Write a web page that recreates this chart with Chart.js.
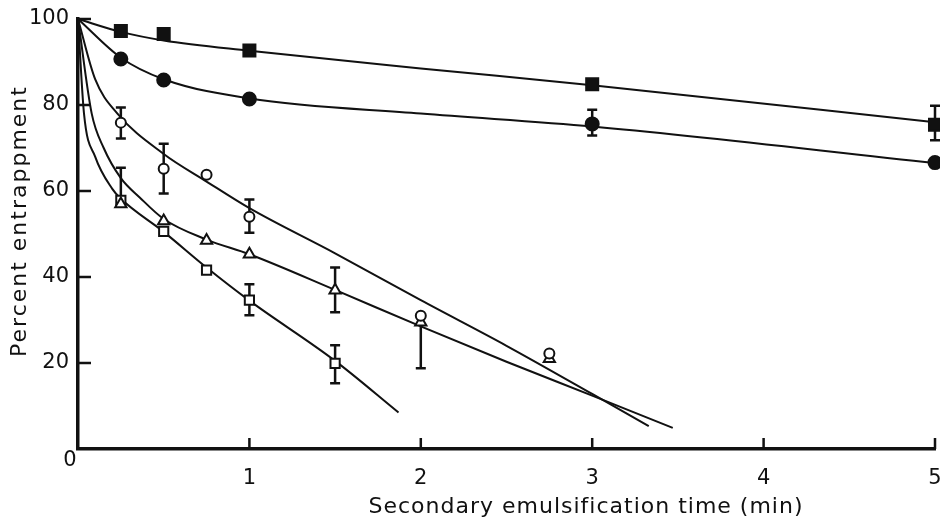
<!DOCTYPE html>
<html>
<head>
<meta charset="utf-8">
<script src="https://cdn.jsdelivr.net/npm/chart.js@4.4.0/dist/chart.umd.min.js"></script>
<style>
  html, body { margin: 0; padding: 0; background: #fff; }
  #wrap { width: 940px; height: 523px; }
</style>
</head>
<body>
<div id="wrap"><canvas id="chart"></canvas></div>
<script>
// AXES
const xTicks = [0, 1, 2, 3, 4, 5];
const yTicks = [0, 20, 40, 60, 80, 100];
const xTitle = "Secondary emulsification time (min)";
const yTitle = "Percent entrappment";

// FILLED SQUARES
const fsqX = [0.25, 0.5, 1, 3, 5];
const fsqY = [97.2, 96.5, 92.7, 84.8, 75.4];
const fsqLo = [0, 0, 0, 0, 3.6];
const fsqHi = [0, 0, 0, 0, 4.4];
const fsqFitX = [0, 0.25, 0.5, 1, 2, 3, 5];
const fsqFitY = [100, 97, 95, 92.6, 88.5, 84.6, 76];

// FILLED CIRCLES
const fciX = [0.25, 0.5, 1, 3, 5];
const fciY = [90.7, 85.8, 81.4, 75.6, 66.6];
const fciLo = [0, 0, 0, 2.7, 0];
const fciHi = [0, 0, 0, 3.3, 0];
const fciFitX = [0, 0.25, 0.5, 1, 2, 3, 5];
const fciFitY = [100, 91, 86, 81.5, 78, 75, 66.5];

// OPEN CIRCLES
const ociX = [0.25, 0.5, 0.75, 1, 2, 2.75];
const ociY = [75.9, 65.2, 63.8, 54, 31, 22.2];
const ociLo = [3.7, 5.8, 0, 3.7, 0, 0];
const ociHi = [3.5, 5.8, 0, 4, 0, 0];
const ociFitX = [0, 0.1, 0.23, 0.5, 0.75, 1, 1.5, 2, 2.5, 3, 3.33];
const ociFitY = [100, 86, 78, 68.6, 62.2, 56, 45.5, 34.6, 24, 12.8, 5.3];

// OPEN TRIANGLES
const otrX = [0.25, 0.5, 0.75, 1, 1.5, 2, 2.75];
const otrY = [57, 53, 48.5, 45.3, 36.9, 29.5, 21];
const otrLo = [0, 0, 0, 0, 5.1, 10.7, 0];
const otrHi = [8.4, 0, 0, 0, 5.3, 0, 0];
const otrFitX = [0, 0.08, 0.15, 0.25, 0.36, 0.5, 0.75, 1, 1.5, 2, 2.5, 3, 3.47];
const otrFitY = [100, 78, 70, 63, 58.5, 53.5, 48.7, 45.3, 37, 28.5, 20.3, 12.4, 4.9];

// OPEN SQUARES
const osqX = [0.25, 0.5, 0.75, 1, 1.5];
const osqY = [57.8, 50.6, 41.6, 34.6, 19.9];
const osqLo = [0, 0, 0, 3.5, 4.6];
const osqHi = [0, 0, 0, 3.7, 4.2];
const osqFitX = [0, 0.035, 0.1, 0.2, 0.25, 0.5, 0.75, 1, 1.5, 1.87];
const osqFitY = [100, 78, 68, 60.5, 58.2, 50.5, 42.2, 34.5, 20.5, 8.5];

const INK = "#111";
const FONT = "'DejaVu Sans', sans-serif";

function pts(xs, ys) {
  return xs.map((x, i) => ({ x: x, y: ys[i] }));
}

function fitLine(xs, ys) {
  return {
    type: "line",
    data: pts(xs, ys),
    borderColor: INK,
    borderWidth: 2,
    pointRadius: 0,
    cubicInterpolationMode: "monotone",
    fill: false,
    clip: false,
    order: 10,
  };
}

function markers(xs, ys, lo, hi, style, filled, radius) {
  return {
    type: "scatter",
    data: pts(xs, ys),
    errLo: lo,
    errHi: hi,
    showLine: false,
    pointStyle: style,
    pointRadius: radius,
    pointBackgroundColor: filled ? INK : "#fff",
    pointBorderColor: INK,
    pointBorderWidth: 2,
    clip: false,
    order: 1,
  };
}

// error bars go under the markers
const errorBars = {
  id: "errorBars",
  beforeDatasetsDraw(chart) {
    const ctx = chart.ctx;
    const xs = chart.scales.x;
    const ys = chart.scales.y;
    ctx.save();
    ctx.strokeStyle = INK;
    ctx.lineWidth = 2.5;
    chart.data.datasets.forEach((ds) => {
      if (!ds.errLo) return;
      ds.data.forEach((p, i) => {
        const lo = ds.errLo[i];
        const hi = ds.errHi[i];
        if (!lo && !hi) return;
        const px = xs.getPixelForValue(p.x);
        const top = ys.getPixelForValue(p.y + hi);
        const bot = ys.getPixelForValue(p.y - lo);
        ctx.beginPath();
        ctx.moveTo(px, top);
        ctx.lineTo(px, bot);
        if (hi) { ctx.moveTo(px - 5, top); ctx.lineTo(px + 5, top); }
        if (lo) { ctx.moveTo(px - 5, bot); ctx.lineTo(px + 5, bot); }
        ctx.stroke();
      });
    });
    ctx.restore();
  },
};

// inward ticks, corner zero and axis titles
const decorations = {
  id: "decorations",
  afterDraw(chart) {
    const ctx = chart.ctx;
    const xs = chart.scales.x;
    const ys = chart.scales.y;
    const area = chart.chartArea;
    ctx.save();
    ctx.strokeStyle = INK;
    ctx.lineWidth = 2.5;
    ctx.beginPath();
    xTicks.slice(1).forEach((v) => {
      const px = xs.getPixelForValue(v);
      ctx.moveTo(px, area.bottom);
      ctx.lineTo(px, area.bottom - 11);
    });
    yTicks.slice(1).forEach((v) => {
      const py = ys.getPixelForValue(v);
      ctx.moveTo(area.left, py);
      ctx.lineTo(area.left + 13, py);
    });
    ctx.stroke();

    ctx.fillStyle = INK;
    ctx.font = "21px " + FONT;
    ctx.textAlign = "center";
    ctx.textBaseline = "middle";
    ctx.fillText("0", area.left - 8, area.bottom + 12);

    ctx.font = "22px " + FONT;
    ctx.letterSpacing = "1px";
    ctx.fillText(xTitle, 586, 507);
    ctx.translate(20, 221);
    ctx.rotate(-Math.PI / 2);
    ctx.letterSpacing = "2px";
    ctx.fillText(yTitle, 0, 0);
    ctx.restore();
  },
};

new Chart(document.getElementById("chart"), {
  type: "scatter",
  data: {
    datasets: [
      markers(fsqX, fsqY, fsqLo, fsqHi, "rect", true, 8.5),
      markers(fciX, fciY, fciLo, fciHi, "circle", true, 6.5),
      markers(ociX, ociY, ociLo, ociHi, "circle", false, 5),
      markers(otrX, otrY, otrLo, otrHi, "triangle", false, 6.5),
      markers(osqX, osqY, osqLo, osqHi, "rect", false, 6.5),
      fitLine(fsqFitX, fsqFitY),
      fitLine(fciFitX, fciFitY),
      fitLine(ociFitX, ociFitY),
      fitLine(otrFitX, otrFitY),
      fitLine(osqFitX, osqFitY),
    ],
  },
  plugins: [errorBars, decorations],
  options: {
    responsive: true,
    maintainAspectRatio: false,
    animation: false,
    layout: { autoPadding: false, padding: { top: 19, right: 5, left: 0, bottom: 0 } },
    plugins: {
      legend: { display: false },
      tooltip: { enabled: false },
    },
    scales: {
      x: {
        type: "linear",
        min: 0,
        max: 5,
        afterFit: (s) => {
          s.height = 74;
          s.paddingLeft = 0;
          s.paddingRight = 0;
        },
        afterBuildTicks: (s) => { s.ticks = xTicks.map((v) => ({ value: v })); },
        grid: { display: false },
        border: { display: true, color: INK, width: 3.5 },
        ticks: {
          color: INK,
          padding: 9,
          font: { family: FONT, size: 21 },
          callback: (v) => (v === 0 ? "" : v),
        },
      },
      y: {
        type: "linear",
        min: 0,
        max: 100,
        afterFit: (s) => {
          s.width = 78;
          s.paddingTop = 0;
          s.paddingBottom = 0;
        },
        afterBuildTicks: (s) => { s.ticks = yTicks.map((v) => ({ value: v })); },
        grid: { display: false },
        border: { display: true, color: INK, width: 3.5 },
        ticks: {
          color: INK,
          padding: 1,
          font: { family: FONT, size: 21 },
          callback: (v) => (v === 0 ? "" : v),
        },
      },
    },
  },
});
</script>
</body>
</html>
